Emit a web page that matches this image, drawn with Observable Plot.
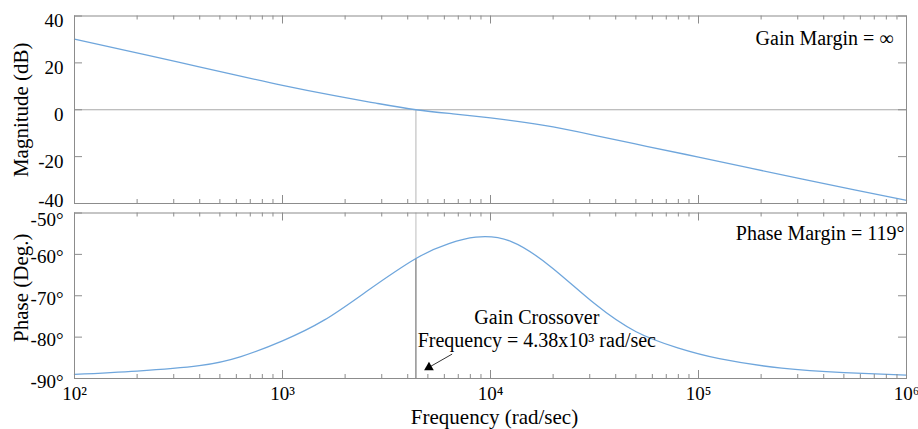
<!DOCTYPE html>
<html><head><meta charset="utf-8">
<script src="https://cdn.jsdelivr.net/npm/d3@7"></script>
<script src="https://cdn.jsdelivr.net/npm/@observablehq/plot@0.6"></script>
<style>
body{margin:0;background:#fff;}
#chart svg{display:block;}
#chart svg text{font-family:'Liberation Serif','Times New Roman',serif;}
</style></head><body><div id="chart"></div>
<script>
// ---- data ----
const freqMag = [100, 178, 316, 562, 1000, 1778, 2818, 4380, 6607, 10000, 17780, 31620, 56230, 100000, 177800, 316200, 562300, 1000000];
const magnitudeDb = [30.1, 25.2, 20.3, 15.3, 10.4, 6.0, 2.8, 0, -1.75, -3.5, -6.6, -10.9, -15.6, -20.2, -24.9, -29.6, -34.2, -38.7];
const freqPhase = [100, 200, 398, 631, 1000, 1585, 2512, 4380, 6310, 8500, 12590, 19950, 31620, 50120, 79430, 125900, 251200, 501200, 1000000];
const phaseDeg = [-89.0, -88.2, -86.9, -84.7, -80.9, -75.9, -69.1, -61.0, -57.4, -55.85, -56.9, -63.4, -71.9, -78.7, -82.6, -85.2, -87.5, -88.6, -89.2];
const crossoverFreq = 4380;
const crossoverPhase = -61;
const decades = [1e2, 1e3, 1e4, 1e5, 1e6];
const minorMultipliers = [2, 3, 4, 5, 6, 7, 8, 9];
const magTicks = [40, 20, 0, -20, -40];
const phaseTicks = [-50, -60, -70, -80, -90];
const magLabel = "Magnitude (dB)";
const phaseLabel = "Phase (Deg.)";
const xLabel = "Frequency (rad/sec)";
const gainMarginText = "Gain Margin = ∞";
const phaseMarginText = "Phase Margin = 119°";
const annotLine1 = "Gain Crossover";
const annotLine2 = "Frequency = 4.38x10³ rad/sec";
// annotation anchor (data units)
const annotX = 16700, annotY1 = -76.8, annotY2 = -82.45;
const arrowFrom = {x: 6540, y: -84.1};
const arrowHead = {x: 5060, y: -87.3};

// ---- derived ----
const minorTicks = decades.slice(0, -1).flatMap(d => minorMultipliers.map(m => d * m));
const magData = freqMag.map((f, i) => ({f, v: magnitudeDb[i]}));
const phaseData = freqPhase.map((f, i) => ({f, v: phaseDeg[i]}));
const sup = {"2": "²", "3": "³", "4": "⁴", "5": "⁵", "6": "⁶"};
const fmtPow = d => "10" + sup[String(Math.round(Math.log10(d)))];

const W = 918, ML = 74, MR = 12;
const FW = W - ML - MR;
const frameColor = "#8c8c8c";
const curveColor = "#6fa6dc";
const style = "font-family:'Liberation Serif','Times New Roman',serif;font-size:19px;color:black;background:white;overflow:visible;";

function frameTicks(H, yTickValues) {
  return [
    Plot.tickX(decades, {x: d => d, insetTop: H - 8, stroke: frameColor}),
    Plot.tickX(decades, {x: d => d, insetBottom: H - 8, stroke: frameColor}),
    Plot.tickX(minorTicks, {x: d => d, insetTop: H - 4, stroke: frameColor}),
    Plot.tickX(minorTicks, {x: d => d, insetBottom: H - 4, stroke: frameColor}),
    Plot.tickY(yTickValues, {y: d => d, insetRight: FW - 8, stroke: frameColor}),
    Plot.tickY(yTickValues, {y: d => d, insetLeft: FW - 8, stroke: frameColor})
  ];
}
const yAxis = (values, fmt, dy) => Plot.axisY(values, {anchor: "left", tickSize: 0, tickPadding: 11, tickFormat: fmt, dy, label: null, fill: "black", fontSize: 19});

// ---- top: magnitude ----
const H1 = 207, MT1 = 15.5, MB1 = 4;
const magPlot = Plot.plot({
  width: W, height: H1, marginTop: MT1, marginBottom: MB1, marginLeft: ML, marginRight: MR,
  x: {type: "log", domain: [1e2, 1e6], axis: null},
  y: {domain: [-40, 40], axis: null},
  style,
  marks: [
    Plot.ruleY([0], {stroke: "#a9a9a9"}),
    Plot.ruleX([crossoverFreq], {y1: 0, y2: -40, stroke: "#b5b5b5"}),
    Plot.line(magData, {x: "f", y: "v", stroke: curveColor, strokeWidth: 1.3, curve: "natural"}),
    ...frameTicks(H1 - MT1 - MB1, magTicks),
    Plot.frame({stroke: frameColor}),
    yAxis(magTicks.slice(0, 4), d => String(d), 5),
    yAxis(magTicks.slice(4), d => String(d), -3),
    Plot.text([magLabel], {text: d => d, frameAnchor: "left", dx: -53, rotate: -90, textAnchor: "middle", lineAnchor: "middle", fontSize: 21, fill: "black"}),
    Plot.text([gainMarginText], {text: d => d, frameAnchor: "top-right", dx: -13, dy: 23, textAnchor: "end", lineAnchor: "middle", fontSize: 20, fill: "black"})
  ]
});

// ---- bottom: phase ----
const H2 = 222, MT2 = 5.5, MB2 = 51;
const phasePlot = Plot.plot({
  width: W, height: H2, marginTop: MT2, marginBottom: MB2, marginLeft: ML, marginRight: MR,
  x: {type: "log", domain: [1e2, 1e6], axis: null},
  y: {domain: [-90, -50], axis: null},
  style,
  marks: [
    Plot.ruleX([crossoverFreq], {y1: -50, y2: crossoverPhase, stroke: "#bdbdbd"}),
    Plot.ruleX([crossoverFreq], {y1: crossoverPhase, y2: -90, stroke: "#5a5a5a"}),
    Plot.line(phaseData, {x: "f", y: "v", stroke: curveColor, strokeWidth: 1.3, curve: "natural"}),
    ...frameTicks(H2 - MT2 - MB2, phaseTicks),
    Plot.frame({stroke: frameColor}),
    yAxis(phaseTicks.slice(0, 1), d => d + "°", 7),
    yAxis(phaseTicks.slice(1), d => d + "°", 3),
    Plot.axisX(decades, {anchor: "bottom", tickSize: 0, tickPadding: 8, tickFormat: fmtPow, label: null, fill: "black", fontSize: 19}),
    Plot.text([phaseLabel], {text: d => d, frameAnchor: "left", dx: -53, dy: -8, rotate: -90, textAnchor: "middle", lineAnchor: "middle", fontSize: 21, fill: "black"}),
    Plot.text([xLabel], {text: d => d, frameAnchor: "bottom", dx: 4, dy: 39, textAnchor: "middle", lineAnchor: "middle", fontSize: 21, fill: "black"}),
    Plot.text([phaseMarginText], {text: d => d, frameAnchor: "top-right", dx: -2, dy: 21, textAnchor: "end", lineAnchor: "middle", fontSize: 20, fill: "black"}),
    Plot.text([annotLine1], {text: d => d, x: () => annotX, y: () => annotY1, lineAnchor: "bottom", fontSize: 20, fill: "black"}),
    Plot.text([annotLine2], {text: d => d, x: () => annotX, y: () => annotY2, lineAnchor: "bottom", fontSize: 20, fill: "black"}),
    Plot.link([0], {x1: () => arrowFrom.x, y1: () => arrowFrom.y, x2: () => arrowHead.x, y2: () => arrowHead.y, stroke: "#333", strokeWidth: 1}),
    Plot.dot([0], {x: () => arrowHead.x, y: () => arrowHead.y, symbol: "triangle", r: 3.6, fill: "black", stroke: "none", rotate: 240})
  ]
});

const chart = document.getElementById("chart");
chart.append(magPlot, phasePlot);
</script>
</body></html>
